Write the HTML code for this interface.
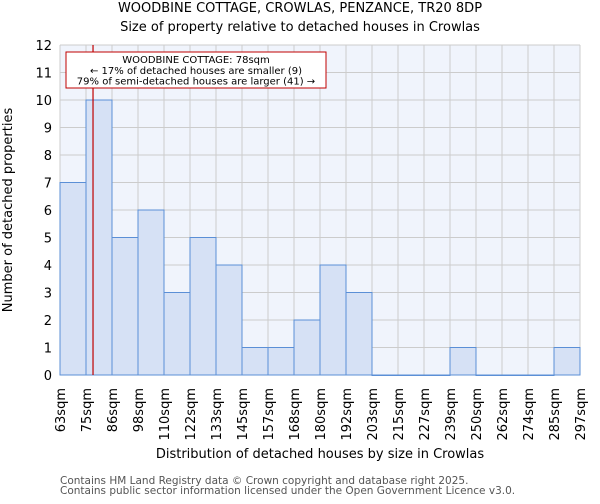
<!DOCTYPE html>
<html><head><meta charset="utf-8"><style>
body{margin:0;background:#fff;font-family:"DejaVu Sans","Liberation Sans",sans-serif;}
svg text{font-family:"DejaVu Sans","Liberation Sans",sans-serif;}
</style></head><body>
<svg id="chart" width="600" height="500" xmlns="http://www.w3.org/2000/svg">
<text x="300" y="12" text-anchor="middle" font-size="13">WOODBINE COTTAGE, CROWLAS, PENZANCE, TR20 8DP</text>
<text x="300" y="31" text-anchor="middle" font-size="13">Size of property relative to detached houses in Crowlas</text>
<rect x="60" y="45" width="520" height="330" fill="#f0f4fc"/>
<g id="grid"></g><g id="bars"></g><g id="ticks"></g>
<line id="pline" y1="45" y2="375" stroke="#c00000" stroke-width="1.2"/>
<rect x="66" y="52" width="260" height="36" fill="#fff" stroke="#c00000" stroke-width="1"/>
<text x="196" y="63" text-anchor="middle" font-size="10">WOODBINE COTTAGE: 78sqm</text>
<text x="196" y="74" text-anchor="middle" font-size="10">← 17% of detached houses are smaller (9)</text>
<text x="196" y="84.5" text-anchor="middle" font-size="10">79% of semi-detached houses are larger (41) →</text>
<text transform="translate(12,210) rotate(-90)" text-anchor="middle" font-size="13">Number of detached properties</text>
<text x="320" y="458" text-anchor="middle" font-size="13">Distribution of detached houses by size in Crowlas</text>
<text x="60" y="484" font-size="10.5" fill="#555">Contains HM Land Registry data © Crown copyright and database right 2025.</text>
<text x="60" y="494" font-size="10.5" fill="#555">Contains public sector information licensed under the Open Government Licence v3.0.</text>
</svg>
<script>
const binLabels=["63sqm","75sqm","86sqm","98sqm","110sqm","122sqm","133sqm","145sqm","157sqm","168sqm","180sqm","192sqm","203sqm","215sqm","227sqm","239sqm","250sqm","262sqm","274sqm","285sqm","297sqm"];
const counts=[7,10,5,6,3,5,4,1,1,2,4,3,0,0,0,1,0,0,0,1];
const yTicks=[0,1,2,3,4,5,6,7,8,9,10,11,12];
const propertyBinPos=1.27;
const NS="http://www.w3.org/2000/svg";
const X0=60,X1=580,Y0=375,Y1=45,YMAX=12;
const bw=(X1-X0)/counts.length;
const xs=i=>X0+i*bw;
const ys=v=>Y0-v/YMAX*(Y0-Y1);
function mk(t,a,p){const e=document.createElementNS(NS,t);for(const k in a)e.setAttribute(k,a[k]);p.appendChild(e);return e;}
const g=document.getElementById('grid'),b=document.getElementById('bars'),tk=document.getElementById('ticks');
yTicks.forEach(v=>{
 const l=mk('line',{x1:X0,x2:X1,y1:ys(v),y2:ys(v),stroke:'#ccc','stroke-width':1},g);
 
 
 const t=mk('text',{x:X0-8,y:ys(v)+5,'text-anchor':'end','font-size':13},tk);
 t.textContent=v;
 
 
});
binLabels.forEach((s,i)=>{
 const l=mk('line',{x1:xs(i),x2:xs(i),y1:Y1,y2:Y0,stroke:'#ccc','stroke-width':1},g);
 
 
 const t=mk('text',{transform:`translate(${xs(i)+5},388) rotate(-90)`,'text-anchor':'end','font-size':13},tk);
 t.textContent=s;
 
 
});
counts.forEach((c,i)=>{
 const r=mk('rect',{x:xs(i),y:ys(c),width:bw,height:Math.max(Y0-ys(c),0.5),fill:'#d6e1f5',stroke:'#5b8fd6','stroke-width':1},b);
 
 
});
const pl=document.getElementById('pline');
pl.setAttribute('x1',xs(propertyBinPos));pl.setAttribute('x2',xs(propertyBinPos));
</script>
</body></html>
